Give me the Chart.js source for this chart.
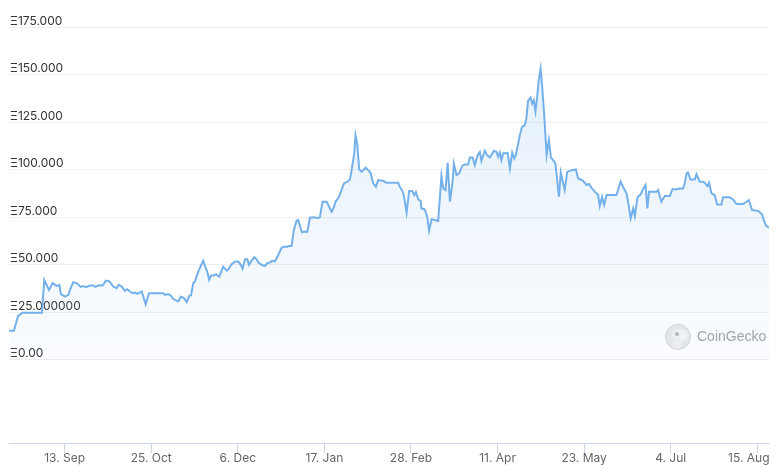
<!DOCTYPE html>
<html><head><meta charset="utf-8">
<script src="https://cdn.jsdelivr.net/npm/chart.js@4.4.1/dist/chart.umd.min.js"></script>
<style>html,body{margin:0;padding:0;background:#fff;}#c{display:block;}</style>
</head><body>
<canvas id="c" width="777" height="474"></canvas>
<script>
// Day offsets from 17 Aug (start of range)
const days = [0,2.4,4.4,5.3,6.3,16.0,17.1,19.4,21.2,22.3,
23.1,24.4,25.2,27.2,28.8,29.9,31.2,32.8,34.8,36.0,
37.3,39.3,40.9,42.0,43.3,45.4,47.0,48.6,50.6,52.2,
53.3,54.7,56.3,57.4,58.7,60.0,61.1,62.2,64.4,66.3,
67.9,71.6,74.8,75.7,77.3,78.4,79.7,82.1,83.4,84.9,
86.2,87.4,88.3,89.4,90.2,91.8,94.2,95.5,96.2,97.1,
98.0,99.4,100.4,102.0,103.9,105.6,106.4,108.0,109.6,111.2,
112.4,113.3,114.5,115.6,116.4,117.7,119.0,120.1,121.2,123.0,
124.2,125.3,126.6,127.7,129.0,130.6,132.3,133.8,134.7,135.8,
137.1,138.2,139.5,140.3,141.5,142.2,143.5,144.7,146.0,147.6,
150.0,150.8,152.1,154.1,155.3,156.5,157.6,158.4,160.0,161.3,
162.5,164.1,165.4,166.2,167.5,168.1,168.9,169.9,171.0,173.0,
174.2,175.4,176.7,178.0,179.1,181.2,182.3,183.2,188.8,189.6,
190.9,191.6,192.9,194.1,195.6,196.6,197.4,198.5,199.7,200.1,
201.7,202.9,203.8,205.0,206.6,208.2,209.8,210.6,211.8,212.8,
213.9,215.2,215.8,217.1,218.4,220.0,221.1,222.7,223.6,224.9,
226.0,227.3,228.4,229.2,230.8,231.9,233.3,235.2,236.5,237.3,
238.1,238.9,239.7,241.9,243.0,244.1,245.1,245.9,247.8,248.9,
250.2,251.0,251.8,253.0,253.8,254.6,255.4,256.2,257.0,257.9,
258.6,259.6,260.8,261.9,262.9,264.0,265.1,266.8,267.7,268.5,
269.6,270.8,272.9,275.0,276.1,278.5,280.2,281.4,282.6,284.2,
285.8,286.6,287.7,288.7,289.9,294.7,296.7,298.3,299.6,300.7,
301.6,302.8,303.6,304.9,306.4,307.6,308.8,309.7,310.5,314.1,
314.9,316.5,318.1,320.6,321.9,323.5,325.4,327.0,327.8,328.7,
329.4,330.6,332.7,333.5,335.1,336.7,337.5,338.8,339.6,340.8,
342.4,343.5,345.6,346.4,349.7,351.3,352.9,356.1,357.8,358.9,
360.5,363.4,365.3,366.3,367.4,368.7];

// Floor price in ETH
const floorPrice = [15.2,15.2,23.1,23.6,24.7,24.7,42,36.7,40.3,39.4,
38.8,39.4,34.5,33.2,34.1,37.6,40.8,40.3,38.3,38.8,
38.2,39,39,38.3,39.2,39,41.6,41.3,38.5,37.6,
39.4,38.5,36.2,37.1,35.9,35,35.3,34.6,35.9,29.2,
35,35,35,34.1,34.5,33.8,31.9,30.6,33.2,32.4,
30.3,33.6,33.8,40.3,41.1,46.3,52.1,48.1,46.3,42,
44.3,44.3,45,43.7,49,46.9,47.6,50.2,51.6,51.8,
49.9,47.9,52.9,52.9,49.9,52.1,53.9,52.9,50.8,49.7,
49.3,50.8,51.1,52.1,51.6,55.1,59,59.5,59.3,59.8,
59.8,68.2,73.1,73.5,69.1,67,67.4,67.2,74.7,74.9,
74.5,74.9,83.1,83.1,80.5,77.8,80.1,83.1,85.4,89.2,
92.7,93.6,94.8,99.7,108.5,118.1,113.8,100.1,98.8,101,
99.7,98.3,92.7,91,94.5,94.1,93.6,93.1,93.1,91,
88.7,86.1,77.3,88.7,88.7,86.6,88.2,84.3,83.5,79.6,
79.1,75.2,67.9,73.9,73.5,73,96.6,90.1,89.2,103.6,
83.1,93.6,103.2,97.1,98,102.2,102.7,102.7,106.4,106.4,
102.4,107.6,109.3,104.6,109.9,107.6,106.4,109.9,109.3,106.7,
109,105,108.5,108.8,100.6,109,105.9,107.6,118.1,122.5,
123.4,126.9,136.1,137.9,134.8,136.5,130.7,137.9,147,153.1,
144.4,129.5,107.6,115.5,106.4,105,103.2,85.7,98.5,94.5,
89.2,98.8,99.7,100.1,95.4,94.1,91.9,92.4,90.4,88.4,
86.6,80.8,85.7,81.4,86.6,86.6,93.6,90.1,87.5,80.5,
74.4,79.6,75.6,85.4,87,89.6,91.9,79.6,88.4,88.4,
89.2,83.1,86.1,86.1,89.8,89.6,90.1,90.1,92.7,98,
98.5,94.8,94.8,97.6,93.6,93.6,93.1,91.3,93.1,87.5,
86.6,81.7,81.7,85.4,85.4,84.3,81.9,81.9,83.1,84,
78.7,78.3,76.6,73,70.3,69.4];

const xTickDays = [27,69,111,153,195,237,279,321,363];
const xTickLabels = ["13. Sep","25. Oct","6. Dec","17. Jan","28. Feb","11. Apr","23. May","4. Jul","15. Aug"];
const yTickValues = [0,25,50,75,100,125,150,175];
const yTickLabels = ["Ξ0.00","Ξ25.000000","Ξ50.000","Ξ75.000","Ξ100.000","Ξ125.000","Ξ150.000","Ξ175.000"];

const points = days.map((d, i) => ({ x: d, y: floorPrice[i] }));

const watermark = {
  id: 'watermark',
  beforeDatasetsDraw(chart) {
    const c = chart.ctx, a = chart.chartArea;
    const cx = a.right - 91, cy = chart.scales.y.getPixelForValue(12);
    c.save();
    c.beginPath(); c.arc(cx, cy, 12.5, 0, Math.PI * 2);
    c.fillStyle = '#e9e9e9'; c.fill();
    c.lineWidth = 1; c.strokeStyle = '#d6d6d6'; c.stroke();
    c.beginPath(); c.ellipse(cx + 2, cy - 2, 8, 6, 0, 0, Math.PI * 2);
    c.fillStyle = '#f6f6f6'; c.fill();
    c.beginPath(); c.ellipse(cx - 1, cy + 6, 5, 6, 0, 0, Math.PI * 2);
    c.fillStyle = '#f1f1f1'; c.fill();
    c.beginPath(); c.arc(cx - 1, cy - 3, 2, 0, Math.PI * 2);
    c.fillStyle = '#b5b5b5'; c.fill();
    c.fillStyle = '#a3a3a3';
    c.font = '14px "Liberation Sans", Arial, sans-serif';
    c.textBaseline = 'middle'; c.textAlign = 'left';
    c.fillText('CoinGecko', cx + 19, cy);
    c.restore();
  }
};

new Chart(document.getElementById('c'), {
  type: 'line',
  data: {
    datasets: [{
      data: points,
      borderColor: '#74b1ea',
      borderWidth: 2,
      pointRadius: 0,
      tension: 0,
      fill: 'origin',
      backgroundColor: (ctx) => {
        const chart = ctx.chart;
        if (!chart.chartArea) return 'rgba(124,181,236,0.1)';
        const y = chart.scales.y;
        const g = chart.ctx.createLinearGradient(0, y.getPixelForValue(155), 0, y.getPixelForValue(0));
        g.addColorStop(0, 'rgba(124,181,236,0.2)');
        g.addColorStop(1, 'rgba(124,181,236,0.04)');
        return g;
      }
    }]
  },
  options: {
    responsive: false,
    animation: false,
    devicePixelRatio: 1,
    layout: { padding: { top: 27, right: 8, left: 0, bottom: 0 } },
    plugins: { legend: { display: false }, tooltip: { enabled: false } },
    scales: {
      x: {
        type: 'linear', min: 0, max: 368.7,
        afterBuildTicks: s => { s.ticks = xTickDays.map(v => ({ value: v })); },
        afterFit: s => { s.height = 31; s.paddingLeft = 0; s.paddingRight = 0; },
        grid: { drawOnChartArea: false, drawTicks: true, tickLength: 10, tickColor: '#ccd6eb' },
        border: { display: true, color: '#ccd6eb', width: 1 },
        ticks: {
          autoSkip: false, maxRotation: 0, minRotation: 0, padding: -2, color: '#666666',
          font: { family: 'Inter', size: 12 },
          callback: (v, i) => i === xTickLabels.length - 1 ? xTickLabels[i] + '     ' : xTickLabels[i]
        }
      },
      y: {
        type: 'linear', min: -43.8, max: 175,
        afterBuildTicks: s => { s.ticks = yTickValues.map(v => ({ value: v })); },
        afterFit: s => { s.width = 9; s.paddingTop = 0; s.paddingBottom = 0; },
        grid: { color: '#eeeeee', drawTicks: false },
        border: { display: false },
        ticks: {
          mirror: true, padding: 1, labelOffset: -6, color: '#333333',
          font: { family: 'Inter', size: 12 },
          callback: (v, i) => yTickLabels[i]
        }
      }
    }
  },
  plugins: [watermark]
});
</script>
</body></html>
